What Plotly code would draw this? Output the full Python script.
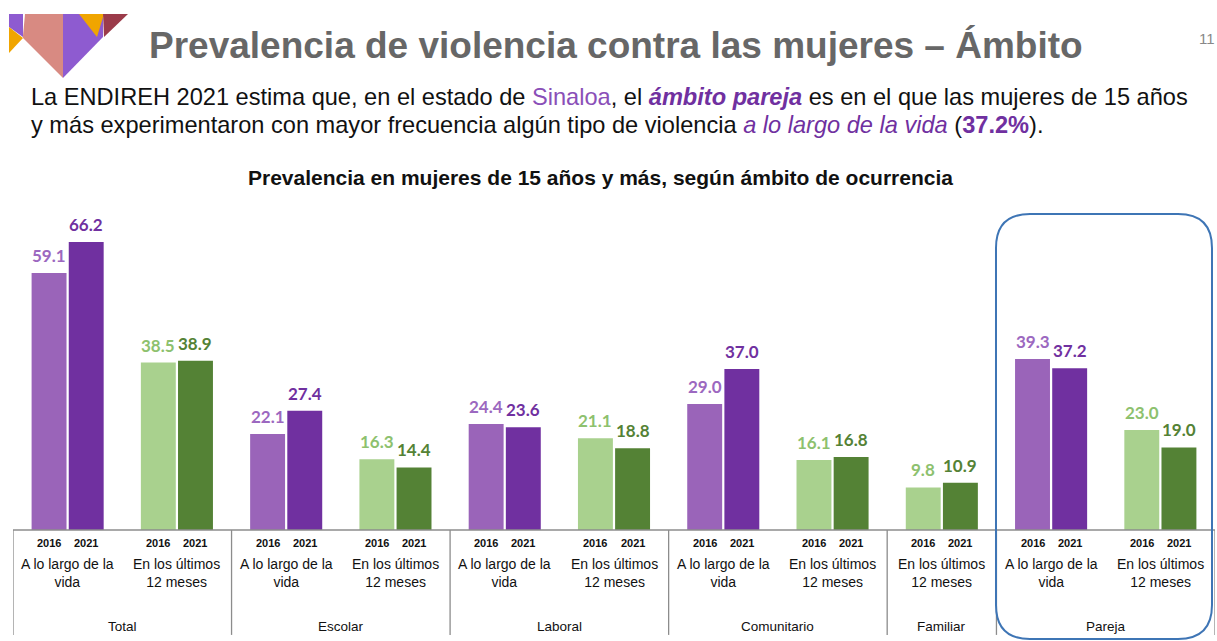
import plotly.graph_objects as go

# data
subgroups = ["A lo largo de la<br>vida", "En los últimos<br>12 meses",
             "A lo largo de la<br>vida", "En los últimos<br>12 meses",
             "A lo largo de la<br>vida", "En los últimos<br>12 meses",
             "A lo largo de la<br>vida", "En los últimos<br>12 meses",
             "En los últimos<br>12 meses",
             "A lo largo de la<br>vida", "En los últimos<br>12 meses"]
kind = ["vida", "12m", "vida", "12m", "vida", "12m", "vida", "12m", "12m", "vida", "12m"]
v2016 = [59.1, 38.5, 22.1, 16.3, 24.4, 21.1, 29.0, 16.1, 9.8, 39.3, 23.0]
v2021 = [66.2, 38.9, 27.4, 14.4, 23.6, 18.8, 37.0, 16.8, 10.9, 37.2, 19.0]
groups = ["Total", "Escolar", "Laboral", "Comunitario", "Familiar", "Pareja"]
group_size = [2, 2, 2, 2, 1, 2]
years = ["2016", "2021"]

W, H = 1217, 641
L, R, T, B = 13, 2, 200, 0


def px(x):  # page pixel -> paper
    return (x - L) / (W - L - R)


def py(y):
    return (H - B - y) / (H - T - B)


bar_col = {"2016": {"vida": "#9A64B9", "12m": "#A9D18E"},
           "2021": {"vida": "#7030A0", "12m": "#548235"}}
txt_col = {"2016": {"vida": "#9C68C0", "12m": "#8DC16E"},
           "2021": {"vida": "#7030A0", "12m": "#548235"}}

xs = list(range(len(subgroups)))
fig = go.Figure()
ann = []
for yr, vals, off in zip(years, [v2016, v2021], [-0.17, 0.17]):
    fig.add_trace(go.Bar(
        x=xs, y=vals, name=yr,
        marker=dict(color=[bar_col[yr][k] for k in kind], line=dict(width=0)),
        hoverinfo="x+y",
    ))
    for i, v in enumerate(vals):
        ann.append(dict(x=i + off, y=v, xref="x", yref="y", yanchor="bottom", yshift=5,
                        text=f"<b>{v:.1f}</b>", showarrow=False,
                        font=dict(family="Lato", size=17, color=txt_col[yr][kind[i]])))

shapes = []
# year labels and subgroup labels
for i, lab in enumerate(subgroups):
    for off, yr in [(-0.17, "2016"), (0.17, "2021")]:
        ann.append(dict(x=i + off, y=-3.0, xref="x", yref="y", text="<b>" + yr + "</b>",
                        showarrow=False, font=dict(family="Liberation Sans", size=11, color="#111")))
    ann.append(dict(x=i, y=-9.9, xref="x", yref="y", text=lab, showarrow=False,
                    font=dict(family="Liberation Sans", size=14, color="#111")))

# group labels and dividers
start = -0.5
for g, n in zip(groups, group_size):
    ann.append(dict(x=start + n / 2, y=-22.1, xref="x", yref="y", text=g, showarrow=False,
                    font=dict(family="Liberation Sans", size=13.5, color="#111")))
    shapes.append(dict(type="line", xref="x", yref="y", x0=start, x1=start, y0=0, y1=-24.1,
                       line=dict(color="#8c8c8c", width=1.3)))
    start += n
shapes.append(dict(type="line", xref="x", yref="y", x0=start, x1=start, y0=0, y1=-24.1,
                   line=dict(color="#8c8c8c", width=1.3)))
shapes.append(dict(type="line", xref="x", yref="y", x0=-0.5, x1=10.5, y0=0, y1=0,
                   line=dict(color="#8c8c8c", width=1.5)))

# rounded box around Pareja
x0, x1, y0, y1, r = 996, 1212, 214, 639, 34
pts = [("M", [(x0, y0 + r)]), ("Q", [(x0, y0), (x0 + r, y0)]), ("L", [(x1 - r, y0)]),
       ("Q", [(x1, y0), (x1, y0 + r)]), ("L", [(x1, y1 - r)]), ("Q", [(x1, y1), (x1 - r, y1)]),
       ("L", [(x0 + r, y1)]), ("Q", [(x0, y1), (x0, y1 - r)]), ("Z", [])]
path = " ".join(c + " " + " ".join(f"{px(a):.5f},{py(b):.5f}" for a, b in p) for c, p in pts)
shapes.append(dict(type="path", xref="paper", yref="paper", path=path,
                   line=dict(color="#3E75B5", width=2)))

# logo
logo = [
    ("#8E5BD0", [(9, 14), (23, 14), (23, 37), (9, 27)]),
    ("#F0A500", [(9, 27), (23, 38), (9, 53)]),
    ("#D88A82", [(25, 14), (63, 14), (63, 78), (23, 38), (23, 36)]),
    ("#8E5BD0", [(63, 14), (103, 14), (103, 37), (63, 78)]),
    ("#F0A500", [(79, 14), (104, 14), (97, 37)]),
    ("#9B3B4A", [(103, 14), (128, 14), (104, 37)]),
]
for col, poly in logo:
    p = "M " + " L ".join(f"{px(a):.5f},{py(b):.5f}" for a, b in poly) + " Z"
    shapes.append(dict(type="path", xref="paper", yref="paper", path=p,
                       fillcolor=col, line=dict(width=0), layer="above"))

# texts
ann.append(dict(x=px(147), y=py(45), xref="paper", yref="paper", xanchor="left", yanchor="middle",
                text="<b>Prevalencia de violencia contra las mujeres – Ámbito</b>", showarrow=False,
                font=dict(family="Liberation Sans", size=37, color="#676767")))
ann.append(dict(x=px(1207), y=py(38), xref="paper", yref="paper", xanchor="center", yanchor="middle",
                text="11", showarrow=False,
                font=dict(family="Liberation Sans", size=15, color="#888888")))
pur = "#7030A0"
line1 = ("La ENDIREH 2021 estima que, en el estado de <span style='color:#8A4FB8'>Sinaloa</span>, el "
         f"<span style='color:{pur}'><b><i>ámbito pareja</i></b></span> es en el que las mujeres de 15 años")
line2 = ("y más experimentaron con mayor frecuencia algún tipo de violencia "
         f"<span style='color:{pur}'><i>a lo largo de la vida</i></span> (<span style='color:{pur}'><b>37.2%</b></span>).")
for txt, yy in [(line1, 97), (line2, 125)]:
    ann.append(dict(x=px(29), y=py(yy), xref="paper", yref="paper", xanchor="left", yanchor="middle",
                    text=txt, showarrow=False,
                    font=dict(family="Liberation Sans", size=23.6, color="#111")))
ann.append(dict(x=px(600), y=py(177), xref="paper", yref="paper", yanchor="middle",
                text="<b>Prevalencia en mujeres de 15 años y más, según ámbito de ocurrencia</b>",
                showarrow=False, font=dict(family="Liberation Sans", size=21, color="#111")))

fig.update_layout(
    width=W, height=H,
    margin=dict(l=L, r=R, t=T, b=B),
    paper_bgcolor="white", plot_bgcolor="white",
    barmode="group", bargap=0.32, bargroupgap=0.06,
    showlegend=False,
    xaxis=dict(visible=False, range=[-0.5, 10.5]),
    yaxis=dict(visible=False, range=[-25.5, 75.86]),
    annotations=ann, shapes=shapes,
)

# remove the default page margin so the figure fills the window exactly
fig.write_html("out.html", config={"displayModeBar": False},
               post_script="document.body.style.margin='0';document.body.style.overflow='hidden';")
